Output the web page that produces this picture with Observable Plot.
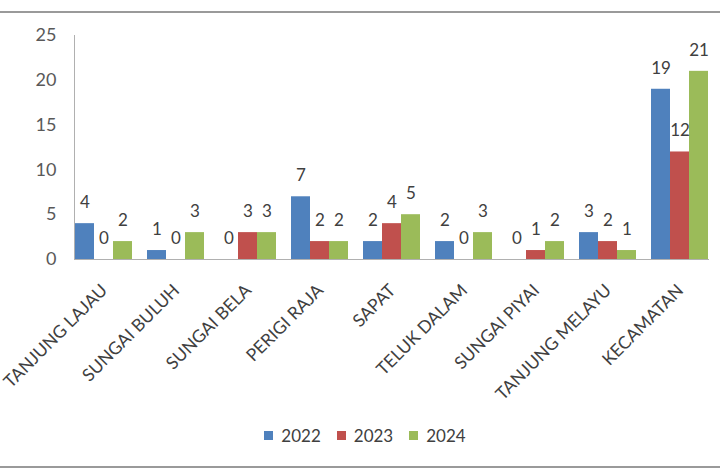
<!DOCTYPE html>
<html>
<head>
<meta charset="utf-8">
<script src="https://cdn.jsdelivr.net/npm/d3@7"></script>
<script src="https://cdn.jsdelivr.net/npm/@observablehq/plot@0.6"></script>
<style>
  html, body { margin: 0; padding: 0; background: #fff; }
  #wrap { position: relative; width: 720px; height: 475px; overflow: hidden; font-family: Lato, "Open Sans", sans-serif; }
  #topline { position: absolute; left: 0; top: 11px; width: 720px; height: 0; border-top: 2px solid #9a9a9a; }
  #botline { position: absolute; left: 0; top: 466px; width: 720px; height: 0; border-top: 2px solid #9a9a9a; }
  #chart { position: absolute; left: 0; top: 13px; }
  #legend { position: absolute; left: 0; top: 425px; width: 720px; display: flex; justify-content: center; align-items: center; gap: 16px; font-size: 17px; color: #404040; padding-left: 10px; box-sizing: border-box; }
  .item { display: flex; align-items: center; gap: 8px; }
  .sw { width: 9px; height: 9px; display: inline-block; }
</style>
</head>
<body>
<div id="wrap">
  <div id="topline"></div>
  <div id="chart"></div>
  <div id="legend"></div>
  <div id="botline"></div>
</div>
<script>
const categories = ["TANJUNG LAJAU", "SUNGAI BULUH", "SUNGAI BELA", "PERIGI RAJA", "SAPAT", "TELUK DALAM", "SUNGAI PIYAI", "TANJUNG MELAYU", "KECAMATAN"];
const years = ["2022", "2023", "2024"];
const v2022 = [4, 1, 0, 7, 2, 2, 0, 3, 19];
const v2023 = [0, 0, 3, 2, 4, 0, 1, 2, 12];
const v2024 = [2, 3, 3, 2, 5, 3, 2, 1, 21];
const colors = ["#4F81BD", "#C0504D", "#9BBB59"];
const yTicks = [0, 5, 10, 15, 20, 25];

const series = [v2022, v2023, v2024];
const data = [];
categories.forEach((c, i) => {
  years.forEach((yr, j) => data.push({cat: c, year: yr, value: series[j][i]}));
});

const chart = Plot.plot({
  width: 720,
  height: 410,
  marginTop: 22,
  marginBottom: 164,
  marginLeft: 65,
  marginRight: 2,
  style: {fontFamily: "Lato, 'Open Sans', sans-serif", background: "transparent"},
  fx: {domain: categories, paddingInner: 0.19, paddingOuter: 0.11, label: null},
  x: {domain: years, padding: 0, axis: null},
  y: {domain: [0, 25], axis: null},
  color: {domain: years, range: colors},
  marks: [
    Plot.barY(data, {fx: "cat", x: "year", y: "value", fill: "year"}),
    Plot.text(data, {fx: "cat", x: "year", y: "value", text: d => String(d.value), dy: -21, fontSize: 17, fill: "#404040"}),
    Plot.axisY({ticks: yTicks, tickSize: 0, tickPadding: 18, fontSize: 18, fill: "#595959", label: null}),
    Plot.axisFx({anchor: "bottom", tickRotate: -45, tickSize: 0, tickPadding: 28, dx: 1, fontSize: 17.5, fill: "#404040", label: null}),
    Plot.frame({anchor: "left", facet: "super", stroke: "#b0b0b0"}),
    Plot.frame({anchor: "bottom", facet: "super", stroke: "#b0b0b0"})
  ]
});
document.getElementById("chart").appendChild(chart);

const legend = document.getElementById("legend");
years.forEach((yr, i) => {
  const it = document.createElement("div");
  it.className = "item";
  const sw = document.createElement("span");
  sw.className = "sw";
  sw.style.background = colors[i];
  const t = document.createElement("span");
  t.textContent = yr;
  it.appendChild(sw);
  it.appendChild(t);
  legend.appendChild(it);
});
</script>
</body>
</html>
